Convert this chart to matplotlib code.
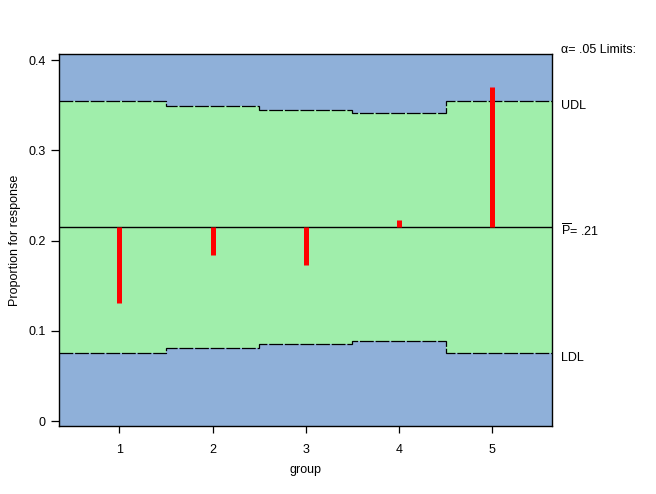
import matplotlib
matplotlib.use("Agg")
import matplotlib.pyplot as plt
import matplotlib.transforms as mtransforms

# ---- data ----
groups = [1, 2, 3, 4, 5]
proportions = [0.1312, 0.1844, 0.1729, 0.2228, 0.3703]
center = 0.2147
udl = [0.3544, 0.3492, 0.3444, 0.3411, 0.3544]
ldl = [0.0750, 0.0806, 0.0850, 0.0884, 0.0750]
yticks = [0, 0.1, 0.2, 0.3, 0.4]
ytick_labels = ["0", "0.1", "0.2", "0.3", "0.4"]
xlim = (0.355, 5.645)
ylim = (-0.0055, 0.4065)

plt.rcParams['font.family'] = ['Liberation Sans', 'DejaVu Sans']
plt.rcParams['mathtext.fontset'] = 'custom'
plt.rcParams['mathtext.rm'] = 'Liberation Sans'
plt.rcParams['mathtext.it'] = 'Liberation Sans:italic'

blue = '#8FB0D9'
green = '#A0EEAB'
fs = 9

fig = plt.figure(figsize=(6.56, 4.94), dpi=100)
ax = fig.add_axes([0.0904, 0.1377, 0.7515, 0.7524])
ax.set_facecolor(blue)
ax.set_xlim(*xlim)
ax.set_ylim(*ylim)

edges = [xlim[0]] + [g + 0.5 for g in groups[:-1]] + [xlim[1]]
ax.stairs(udl, edges, baseline=ldl, fill=True, color=green, lw=0, zorder=1)
ax.stairs(udl, edges, baseline=None, color='black', lw=0.9,
          linestyle=(0, (11, 1.5)), zorder=2)
ax.stairs(ldl, edges, baseline=None, color='black', lw=0.9,
          linestyle=(0, (11, 1.5)), zorder=2)
ax.axhline(center, color='black', lw=1.0, zorder=3)
ax.vlines(groups, center, proportions, colors='#FF0000', lw=3.6, zorder=4,
          capstyle='butt')

ax.set_xticks(groups)
ax.set_xticklabels([str(g) for g in groups])
ax.set_yticks(yticks)
ax.set_yticklabels(ytick_labels)
ax.tick_params(axis='both', direction='out', labelsize=fs, color='black',
               width=0.9)
ax.tick_params(axis='x', length=5, pad=8)
ax.tick_params(axis='y', length=6, pad=4)
for s in ax.spines.values():
    s.set_linewidth(1.0)
    s.set_color('black')

ax.set_xlabel("group", fontsize=fs, labelpad=6)
ax.set_ylabel("Proportion for response", fontsize=fs, labelpad=5)

trans = mtransforms.blended_transform_factory(ax.transAxes, ax.transData)
xt = 1.018
ax.text(xt, 0.4175, "\u03b1= .05 Limits:", transform=trans, fontsize=fs,
        va='top', ha='left', clip_on=False)
ax.text(xt, udl[-1] + 0.001, "UDL", transform=trans, fontsize=fs, va='top', ha='left')
ax.text(xt, center + 0.005, r"$\overline{\mathrm{P}}$= .21", transform=trans,
        fontsize=fs, va='top', ha='left')
ax.text(xt, ldl[-1] + 0.001, "LDL", transform=trans, fontsize=fs, va='top', ha='left')

fig.savefig("out.png", dpi=100)
